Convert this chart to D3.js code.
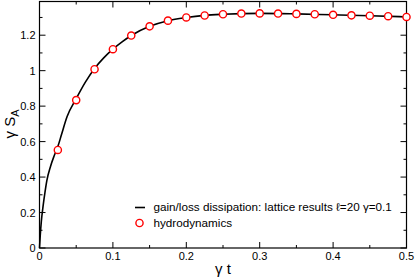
<!DOCTYPE html>
<html>
<head>
<meta charset="utf-8">
<script src="https://cdn.jsdelivr.net/npm/d3@7"></script>
<style>
  body { margin: 0; background: #fff; }
  svg { display: block; font-family: "Liberation Sans", Arial, sans-serif; }
  .tick-label { font-size: 11px; fill: #000; }
  .axis-title { font-size: 15px; fill: #000; }
  .legend-text { font-size: 11.7px; fill: #000; }
</style>
</head>
<body>
<div id="chart"></div>
<script>
// lattice results (solid line)
const lineT = [0, 0.001, 0.0025, 0.005, 0.0075, 0.01, 0.015, 0.02, 0.025, 0.03, 0.0375, 0.05,
  0.0625, 0.075, 0.0875, 0.1, 0.1125, 0.125, 0.15, 0.175, 0.2, 0.225, 0.25, 0.3, 0.35, 0.4,
  0.45, 0.5];
const lineS = [0, 0.07, 0.15, 0.24, 0.315, 0.38, 0.46, 0.52, 0.572, 0.64, 0.74, 0.842,
  0.935, 1.012, 1.072, 1.121, 1.162, 1.198, 1.25, 1.282, 1.30, 1.312, 1.318, 1.323, 1.32,
  1.315, 1.31, 1.303];

// hydrodynamics (open circles)
const hydroT = [0.025, 0.05, 0.075, 0.1, 0.125, 0.15, 0.175, 0.2, 0.225, 0.25,
  0.275, 0.3, 0.325, 0.35, 0.375, 0.4, 0.425, 0.45, 0.475, 0.5];
const hydroS = [0.553, 0.834, 1.008, 1.121, 1.198, 1.25, 1.282, 1.3, 1.311, 1.318,
  1.322, 1.323, 1.322, 1.32, 1.318, 1.315, 1.312, 1.31, 1.307, 1.303];

const xTicks = [0, 0.1, 0.2, 0.3, 0.4, 0.5];
const xMinor = [0.05, 0.15, 0.25, 0.35, 0.45];
const yTicks = [0, 0.2, 0.4, 0.6, 0.8, 1, 1.2];
const yMinor = [0.1, 0.3, 0.5, 0.7, 0.9, 1.1, 1.3];

const width = 415, height = 278;
const plot = { left: 39.5, right: 406.5, top: 1.5, bottom: 248 };

const x = d3.scaleLinear().domain([0, 0.5]).range([plot.left, plot.right]);
const y = d3.scaleLinear().domain([0, 1.39]).range([plot.bottom, plot.top]);

const svg = d3.select("#chart").append("svg")
  .attr("width", width).attr("height", height);

// frame
svg.append("rect")
  .attr("x", plot.left).attr("y", plot.top)
  .attr("width", plot.right - plot.left).attr("height", plot.bottom - plot.top)
  .attr("fill", "none").attr("stroke", "#000").attr("stroke-width", 1.2);

// inward ticks on all four sides
const tickG = svg.append("g").attr("stroke", "#000").attr("stroke-width", 1);
function xTickMarks(vals, len) {
  vals.forEach(v => {
    tickG.append("line").attr("x1", x(v)).attr("x2", x(v))
      .attr("y1", plot.bottom).attr("y2", plot.bottom - len);
    tickG.append("line").attr("x1", x(v)).attr("x2", x(v))
      .attr("y1", plot.top).attr("y2", plot.top + len);
  });
}
function yTickMarks(vals, len) {
  vals.forEach(v => {
    tickG.append("line").attr("y1", y(v)).attr("y2", y(v))
      .attr("x1", plot.left).attr("x2", plot.left + len);
    tickG.append("line").attr("y1", y(v)).attr("y2", y(v))
      .attr("x1", plot.right).attr("x2", plot.right - len);
  });
}
xTickMarks(xTicks, 6);
xTickMarks(xMinor, 3);
yTickMarks(yTicks, 6);
yTickMarks(yMinor, 3);

// tick labels
svg.selectAll(".xl").data(xTicks).join("text")
  .attr("class", "tick-label")
  .attr("x", d => x(d)).attr("y", plot.bottom + 12)
  .attr("text-anchor", "middle")
  .text(d => d3.format("~g")(d));

svg.selectAll(".yl").data(yTicks).join("text")
  .attr("class", "tick-label")
  .attr("x", plot.left - 4).attr("y", d => y(d) + 4)
  .attr("text-anchor", "end")
  .text(d => d3.format("~g")(d));

// axis titles
svg.append("text").attr("class", "axis-title")
  .attr("x", x(0.25)).attr("y", 274)
  .attr("text-anchor", "middle")
  .text("γ t");

const yt = svg.append("text").attr("class", "axis-title")
  .attr("transform", `translate(15,${y(0.7)}) rotate(-90)`)
  .attr("text-anchor", "middle");
yt.append("tspan").text("γ S");
yt.append("tspan").attr("dy", 4).attr("font-size", "11px").text("A");

// lattice line
const line = d3.line()
  .x((d, i) => x(lineT[i]))
  .y(d => y(d))
  .curve(d3.curveMonotoneX);

svg.append("path")
  .datum(lineS)
  .attr("fill", "none")
  .attr("stroke", "#000")
  .attr("stroke-width", 1.6)
  .attr("d", line);

// hydrodynamics circles
svg.selectAll(".hydro").data(hydroS).join("circle")
  .attr("cx", (d, i) => x(hydroT[i]))
  .attr("cy", d => y(d))
  .attr("r", 3.6)
  .attr("fill", "#fff")
  .attr("stroke", "#ff0000")
  .attr("stroke-width", 1.4);

// legend
const lg = svg.append("g");
lg.append("line").attr("x1", 135).attr("x2", 145).attr("y1", 207.5).attr("y2", 207.5)
  .attr("stroke", "#000").attr("stroke-width", 1.6);
lg.append("text").attr("class", "legend-text").attr("x", 153.5).attr("y", 211)
  .text("gain/loss dissipation: lattice results ℓ=20 γ=0.1");
lg.append("circle").attr("cx", 139.5).attr("cy", 223).attr("r", 3.6)
  .attr("fill", "#fff").attr("stroke", "#ff0000").attr("stroke-width", 1.4);
lg.append("text").attr("class", "legend-text").attr("x", 153.5).attr("y", 226.5)
  .text("hydrodynamics");
</script>
</body>
</html>
